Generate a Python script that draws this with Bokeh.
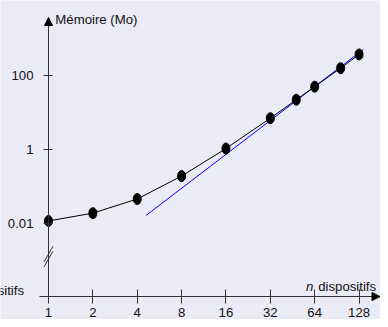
import math
from bokeh.plotting import figure
from bokeh.models import FixedTicker, Arrow, NormalHead, Label
from bokeh.core.properties import value
from bokeh.embed import file_html
from bokeh.resources import INLINE

# ---- data ----
n_devices = [1, 2, 4, 8, 16, 32, 48, 64, 96, 128]
memory_mo = [0.012, 0.0195, 0.047, 0.195, 1.08, 7.1, 22.4, 50.4, 159, 372]
fit_x = [4.6, 137]
fit_y = [0.017, 510]
x_ticks = [1, 2, 4, 8, 16, 32, 64, 128]
x_tick_labels = ["1", "2", "4", "8", "16", "32", "64", "128"]
y_ticks = [0.01, 1, 100]
y_tick_labels = ["0.01", "1", "100"]

BG = "#ebebf7"
AX = "#333333"
FONT = "Liberation Sans"
FS = "13.2px"

# reference-pixel -> data helpers (positions only); the frame spans the
# whole reference picture (0..388 x 0..327)
def px_to_x(px):
    return 2 ** ((px - 49) / 45.3)

def px_to_y(py):
    return 10 ** ((153 - py) / 38)

p = figure(width=380, height=319, x_axis_type="log", y_axis_type="log",
           x_range=(px_to_x(0), px_to_x(388)), y_range=(px_to_y(327), px_to_y(0)),
           min_border=0, toolbar_location=None, output_backend="svg")
p.background_fill_color = BG
p.border_fill_color = BG
p.outline_line_color = None
p.grid.visible = False

xa = p.xaxis[0]
xa.fixed_location = px_to_y(303.5)
xa.ticker = FixedTicker(ticks=x_ticks, minor_ticks=[])
xa.major_label_overrides = dict(zip(x_ticks, x_tick_labels))
xa.bounds = (px_to_x(40), px_to_x(380))
xa.major_tick_in = 7
xa.major_tick_out = 7
xa.minor_tick_line_color = None
xa.axis_line_color = AX
xa.major_tick_line_color = AX
xa.major_label_text_font = FONT
xa.major_label_text_font_size = FS
xa.major_label_text_color = "#111111"
xa.major_label_standoff = 4

ya = p.yaxis[0]
ya.fixed_location = 1
ya.ticker = FixedTicker(ticks=y_ticks, minor_ticks=[])
ya.major_label_overrides = dict(zip(y_ticks, y_tick_labels))
ya.bounds = (px_to_y(303.5), px_to_y(25))
ya.major_tick_in = 4
ya.major_tick_out = 5
ya.minor_tick_line_color = None
ya.axis_line_color = AX
ya.major_tick_line_color = AX
ya.major_label_text_font = FONT
ya.major_label_text_font_size = FS
ya.major_label_text_color = "#111111"
ya.major_label_standoff = 10

# arrow heads
p.add_layout(Arrow(x_start=1, y_start=px_to_y(25), x_end=1, y_end=px_to_y(17.5),
                   line_color=AX, line_width=1,
                   end=NormalHead(size=8, fill_color="black", line_color="black")))
p.add_layout(Arrow(x_start=px_to_x(380), y_start=px_to_y(303.5), x_end=px_to_x(387.5), y_end=px_to_y(303.5),
                   line_color=AX, line_width=1,
                   end=NormalHead(size=8, fill_color="black", line_color="black")))

# axis break marks
for off in (0, 5):
    p.segment(x0=[px_to_x(44.5)], y0=[px_to_y(273 - off)],
              x1=[px_to_x(53.5)], y1=[px_to_y(257 - off)],
              line_color=AX, line_width=1)

# data
p.line(fit_x, fit_y, line_color="#0000ff", line_width=1)
p.line(n_devices, memory_mo, line_color="black", line_width=1)
p.ellipse(x=n_devices, y=memory_mo, width=8, height=11,
          width_units="screen", height_units="screen",
          fill_color="black", line_color="black")

# axis titles
p.add_layout(Label(x=px_to_x(56), y=px_to_y(19), text="Mémoire (Mo)",
                   text_font=FONT, text_font_size=FS, text_baseline="middle",
                   text_align="left", text_color="#111111"))
p.add_layout(Label(x=px_to_x(383.5), y=px_to_y(293), text="dispositifs",
                   text_font=FONT, text_font_size=FS, text_baseline="middle",
                   text_align="right", text_color="#111111"))
p.add_layout(Label(x=px_to_x(319.5), y=px_to_y(293), text="n",
                   text_font=FONT, text_font_size=FS, text_font_style="italic",
                   text_baseline="middle", text_align="right", text_color="#111111"))
# clipped duplicate at the left edge
p.text(x=[px_to_x(24)], y=[px_to_y(297)], text=["n dispositifs"],
       text_font=value(FONT), text_font_size=FS, text_baseline="middle",
       text_align="right", text_color="#111111")

open("out.html", "w").write(file_html(p, INLINE))
